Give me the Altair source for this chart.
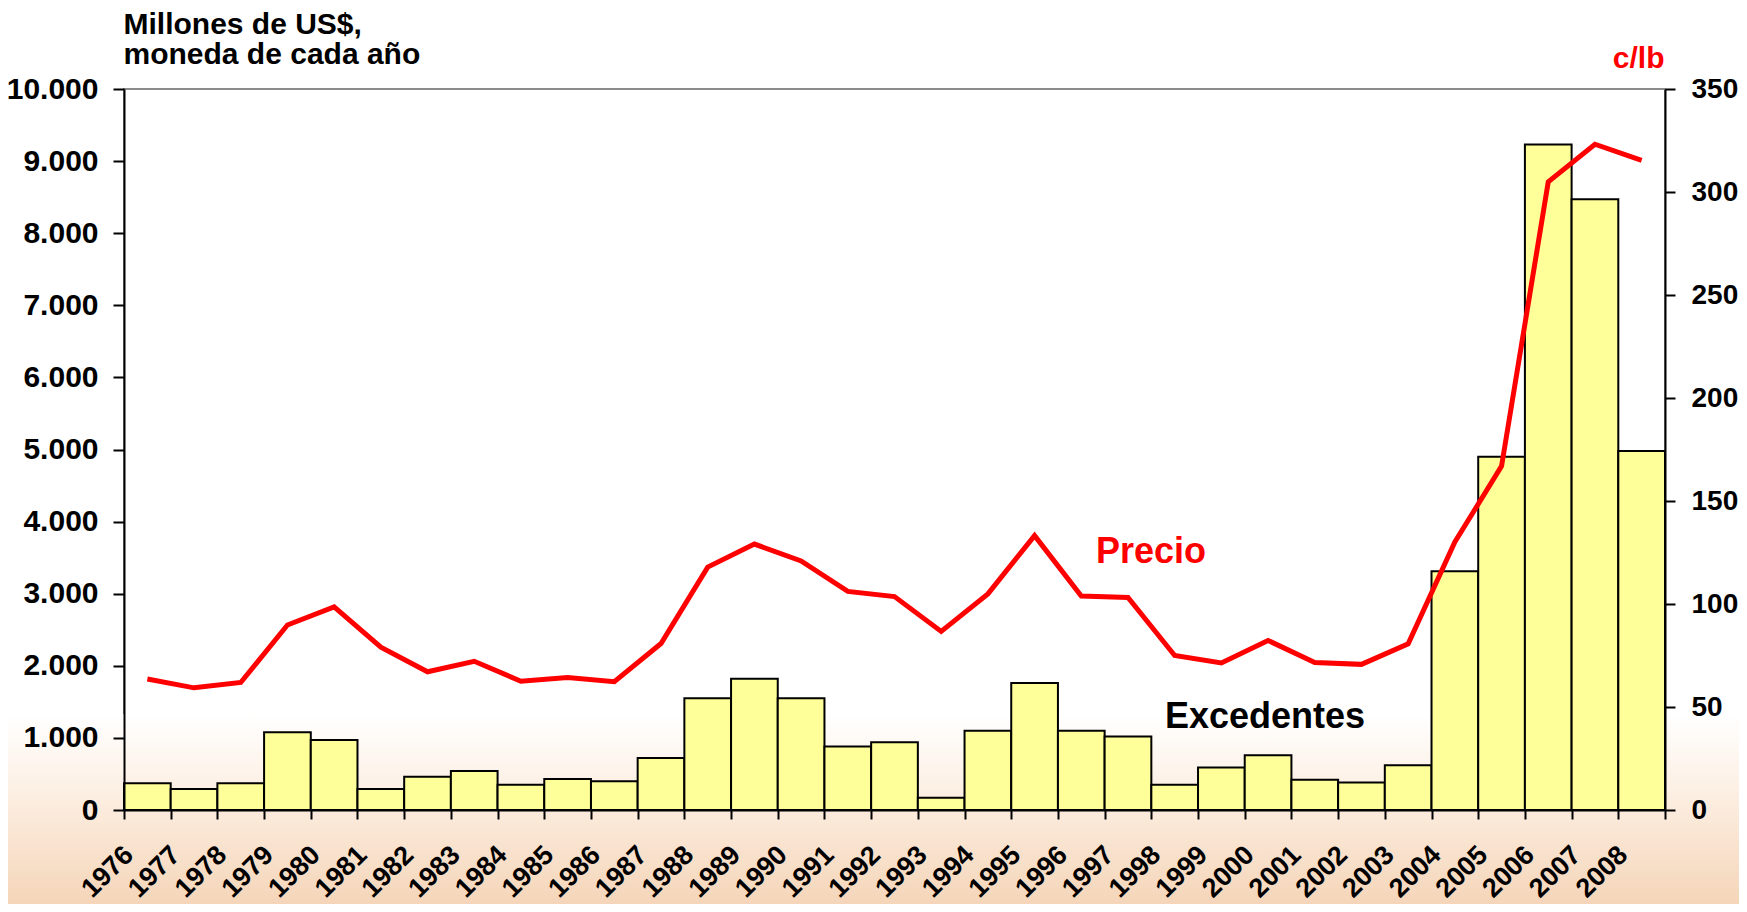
import altair as alt
import pandas as pd

# ---- data ----
years = ["1976", "1977", "1978", "1979", "1980", "1981", "1982", "1983", "1984",
         "1985", "1986", "1987", "1988", "1989", "1990", "1991", "1992", "1993",
         "1994", "1995", "1996", "1997", "1998", "1999", "2000", "2001", "2002",
         "2003", "2004", "2005", "2006", "2007", "2008"]
excedentes = [370, 290, 370, 1080, 970, 290, 460, 540, 350, 430, 400, 720,
              1550, 1820, 1550, 880, 940, 170, 1100, 1760, 1100, 1020, 350,
              590, 760, 420, 380, 620, 3310, 4900, 9230, 8470, 4980]
precio = [63.6, 59.3, 61.9, 89.8, 98.6, 79.0, 67.1, 72.2, 62.5, 64.3, 62.3,
          80.8, 117.9, 129.1, 120.9, 106.1, 103.6, 86.7, 104.9, 133.2, 103.9,
          103.2, 75.0, 71.4, 82.3, 71.6, 70.7, 80.7, 130.1, 166.9, 304.9,
          323.2, 315.3]
left_ticks = [0, 1000, 2000, 3000, 4000, 5000, 6000, 7000, 8000, 9000, 10000]
right_ticks = [0, 50, 100, 150, 200, 250, 300, 350]

df = pd.DataFrame({"Año": years, "Excedentes": excedentes, "Precio": precio})

FONT = "Liberation Sans"
W, H = 1541, 721

x_enc = alt.X(
    "Año:O", sort=None,
    scale=alt.Scale(paddingInner=0, paddingOuter=0),
    axis=alt.Axis(
        title=None, labelAngle=-45, labelAlign="right", labelBaseline="alphabetic",
        labelPadding=37, labelOffset=-13, labelFontSize=27, labelFont=FONT,
        labelFontWeight="bold", labelColor="black", tickBand="extent",
        tickSize=9, tickWidth=2, tickColor="black", domainColor="black",
        domainWidth=2, labelOverlap=False, zindex=1,
    ),
)

bg = alt.Chart(pd.DataFrame({"k": [0]})).mark_rect(
    fill=alt.LinearGradient(
        gradient="linear",
        stops=[
            alt.GradientStop(offset=0, color="#FFFFFF"),
            alt.GradientStop(offset=0.35, color="#FDF1E6"),
            alt.GradientStop(offset=1, color="#F4D3B5"),
        ],
        x1=0, x2=0, y1=0, y2=1,
    )
).encode(x=alt.value(-124), x2=alt.value(1623), y=alt.value(625), y2=alt.value(825))

bars = alt.Chart(df).mark_bar(fill="#FFFF99", stroke="black", strokeWidth=2).encode(
    x=x_enc,
    y=alt.Y(
        "Excedentes:Q",
        scale=alt.Scale(domain=[0, 10000], nice=False),
        axis=alt.Axis(
            orient="left", values=left_ticks, grid=False,
            labelExpr="replace(format(datum.value, ',d'), ',', '.')",
            labelFontSize=30, labelFont=FONT, labelFontWeight="bold", labelColor="black",
            labelPadding=15, tickSize=11, tickWidth=2, tickColor="black",
            domainColor="black", domainWidth=2, zindex=1,
            title=["Millones de US$,", "moneda de cada año"],
            titleAngle=0, titleX=-1, titleY=-56, titleAlign="left",
            titleBaseline="alphabetic", titleFontSize=30, titleFont=FONT,
            titleFontWeight="bold", titleColor="black", titleLineHeight=30,
        ),
    ),
)

line = alt.Chart(df).mark_line(color="#FF0000", strokeWidth=5).encode(
    x=x_enc,
    y=alt.Y(
        "Precio:Q",
        scale=alt.Scale(domain=[0, 350], nice=False),
        axis=alt.Axis(
            orient="right", values=right_ticks, grid=False,
            labelFontSize=28, labelFont=FONT, labelFontWeight="bold", labelColor="black",
            labelPadding=16, tickSize=10, tickWidth=2, tickColor="black",
            domainColor="black", domainWidth=2, zindex=1,
            title="c/lb", titleAngle=0, titleX=-1, titleY=-22, titleAlign="right",
            titleBaseline="alphabetic", titleFontSize=30, titleFont=FONT,
            titleFontWeight="bold", titleColor="#FF0000",
        ),
    ),
)

lbl_precio = alt.Chart(pd.DataFrame({"t": ["Precio"]})).mark_text(
    align="left", baseline="alphabetic", font=FONT, fontSize=36,
    fontWeight="bold", color="#FF0000",
).encode(text="t:N", x=alt.value(972), y=alt.value(474))

lbl_exc = alt.Chart(pd.DataFrame({"t": ["Excedentes"]})).mark_text(
    align="left", baseline="alphabetic", font=FONT, fontSize=36,
    fontWeight="bold", color="black",
).encode(text="t:N", x=alt.value(1041), y=alt.value(639))

chart = alt.layer(bg, bars, line, lbl_precio, lbl_exc).resolve_scale(
    y="independent"
).properties(
    width=W, height=H,
    autosize=alt.AutoSizeParams(type="none"),
    padding={"left": 116, "top": 81, "right": 74, "bottom": 94},
    background="white",
).configure_view(stroke="#8C8C8C", strokeWidth=2)

chart.save("out.html", embed_options={"renderer": "svg", "actions": False})
